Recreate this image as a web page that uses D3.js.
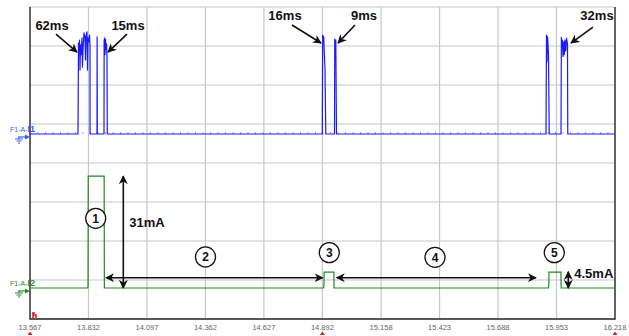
<!DOCTYPE html>
<html>
<head>
<meta charset="utf-8">
<script src="https://cdn.jsdelivr.net/npm/d3@7"></script>
<style>
  body { margin: 0; background: #fff; }
  svg { display: block; font-family: Arial, "Liberation Sans", sans-serif; }
</style>
</head>
<body>
<svg id="chart" width="629" height="336"></svg>
<script>
// time axis (s)
const tickLabels = ["13.567", "13.832", "14.097", "14.362", "14.627", "14.892", "15.158", "15.423", "15.688", "15.953", "16.218"]
const triggerTicks = ["13.567", "14.892", "16.218"]

// channel I1 (blue), [time s, current mA]
const traceI1 = [
  [13.567, 0], [13.7845, 0], [13.7868, 25.2], [13.7890, 23.3], [13.7913, 26.0], [13.7936, 17.7],
  [13.7959, 24.7], [13.7981, 21.9], [13.8026, 26.6], [13.8049, 18.5], [13.8072, 23.3], [13.8117, 28.0],
  [13.8162, 26.6], [13.8185, 20.5], [13.8208, 27.1], [13.8253, 28.3], [13.8275, 17.7], [13.8298, 26.6],
  [13.8344, 25.5], [13.8366, 27.4], [13.8389, 24.7], [13.8392, 0], [13.8706, 0], [13.8712, 26.9],
  [13.8720, 0], [13.9023, 0], [13.9030, 25.8], [13.9046, 26.6], [13.9069, 22.0], [13.9091, 26.3],
  [13.9114, 23.5], [13.9137, 25.0], [13.9159, 21.5], [13.9172, 0],
  [14.8916, 0], [14.8934, 27.4], [14.8957, 26.0], [14.8979, 27.0], [14.9006, 22.5], [14.9038, 18.0],
  [14.9074, 0], [14.9469, 0], [14.9480, 26.3], [14.9500, 25.5], [14.9527, 26.0], [14.9559, 0],
  [15.9053, 0], [15.9076, 27.4], [15.9098, 20.0], [15.9120, 27.0], [15.9135, 26.0], [15.9166, 22.0],
  [15.9198, 0], [15.9733, 0], [15.9750, 26.8], [15.9765, 24.0], [15.9792, 26.0], [15.9824, 21.5],
  [15.9855, 25.5], [15.9883, 22.0], [15.9914, 26.0], [15.9950, 23.0], [15.9982, 26.5], [16.0027, 25.0],
  [16.0040, 0], [16.218, 0]
]

// channel I2 (green), [time s, current mA]
const traceI2 = [
  [13.567, 0], [13.829, 0], [13.830, 0.6], [13.831, 31], [13.903, 31], [13.904, 0],
  [14.897, 0], [14.899, 0.5], [14.900, 4.4], [14.944, 4.4], [14.945, 0],
  [15.916, 0], [15.918, 0.7], [15.919, 4.4], [15.973, 4.4], [15.974, 0], [16.218, 0]
]

// burst duration callouts on I1: arrow tip [time, mA], tail offset and text offset in px
const burstNotes = [
  { text: "62ms", t: 13.780, v: 22.7, tail: [-21, -18], label: [-4, -4.5] },
  { text: "15ms", t: 13.9205, v: 22.7, tail: [19, -18], label: [1, -4.5] },
  { text: "16ms", t: 14.8857, v: 25.2, tail: [-29, -18], label: [-7, -5.5] },
  { text: "9ms", t: 14.9628, v: 25.2, tail: [17, -18], label: [9, -5.5] },
  { text: "32ms", t: 16.0186, v: 25.2, tail: [22, -16], label: [4, -7.5] }
]

// numbered phases on I2
const phaseNumbers = ["1", "2", "3", "4", "5"]
const phaseT = [13.8647, 14.3623, 14.9233, 15.4023, 15.9429]
const phaseV = [19.3, 8.6, 9.8, 8.5, 9.8]

// interval arrows (phase 2 and 4) at I2 level
const spanArrows = [
  { t0: 13.9114, t1: 14.8934, v: 2.85 },
  { t0: 14.9568, t1: 15.8600, v: 2.85 }
]
// amplitude arrows
const ampArrows = [
  { text: "31mA", t: 13.9898, v0: 0, v1: 31, labelV: 17 },
  { text: "4.5mA", t: 16.0063, v0: 0, v1: 4.5, labelV: 2.8 }
]

const svg = d3.select("#chart")
const margin = { top: 7, right: 14, bottom: 17, left: 30 }
const W = +svg.attr("width"), H = +svg.attr("height")
const x0 = margin.left, x1 = W - margin.right
const y0 = H - margin.bottom, y1 = margin.top

const x = d3.scaleLinear().domain([+tickLabels[0], +tickLabels[tickLabels.length - 1]]).range([x0, x1])
const div = d3.scaleLinear().domain([0, 8]).range([y0, y1])
// each channel has its own offset on the shared grid, 10.8 mA per division
const yI1 = d3.scaleLinear().domain([-51.25, 35.18]).range([y0, y1])
const yI2 = d3.scaleLinear().domain([-8.59, 77.84]).range([y0, y1])

// grid
const grid = svg.append("g").attr("stroke", "#c6c6c6").attr("stroke-width", 1.2)
grid.selectAll(".gx").data(tickLabels.slice(1, -1)).enter().append("line")
  .attr("x1", d => x(+d)).attr("x2", d => x(+d)).attr("y1", y1).attr("y2", y0)
grid.selectAll(".gy").data(d3.range(1, 9)).enter().append("line")
  .attr("x1", x0).attr("x2", x1).attr("y1", d => div(d)).attr("y2", d => div(d))

// frame
svg.append("path")
  .attr("d", `M${x0},${y1}V${y0}H${x1}V${y1}`)
  .attr("fill", "none").attr("stroke", "#222").attr("stroke-width", 1.4)

// tick labels
svg.append("g").selectAll("text").data(tickLabels).enter().append("text")
  .attr("x", d => x(+d)).attr("y", y0 + 11)
  .attr("text-anchor", "middle").attr("font-size", 7.5).attr("fill", "#666")
  .text(d => d)

svg.append("g").selectAll("path").data(triggerTicks).enter().append("path")
  .attr("d", d => `M${x(+d) - 2.5},${y0 + 16}L${x(+d)},${y0 + 12.5}L${x(+d) + 2.5},${y0 + 16}Z`)
  .attr("fill", "#e02020")

// trigger icon bottom-left
svg.append("path")
  .attr("d", `M${x0 + 3},${y0 - 1}V${y0 - 6}M${x0 + 3},${y0 - 4}H${x0 + 6}V${y0 - 1}M${x0 + 2},${y0 - 6}H${x0 + 5}`)
  .attr("fill", "none").attr("stroke", "#e02020").attr("stroke-width", 1.6)

// traces
const line = y => d3.line().x(d => x(d[0])).y(d => y(d[1]))

svg.append("path").datum(traceI2)
  .attr("d", line(yI2)).attr("fill", "none")
  .attr("stroke", "#1f8a1f").attr("stroke-width", 1.2)

// sample marks along I1 baseline
svg.append("line")
  .attr("x1", x0).attr("x2", x1).attr("y1", yI1(0) - 1).attr("y2", yI1(0) - 1)
  .attr("stroke", "#3030ff").attr("stroke-width", 1.2).attr("stroke-dasharray", "1 6.5")

svg.append("path").datum(traceI1)
  .attr("d", line(yI1)).attr("fill", "none")
  .attr("stroke", "#1a1aff").attr("stroke-width", 1.2).attr("stroke-linejoin", "round")

// channel labels
function channelLabel(y, color, name) {
  const g = svg.append("g").attr("fill", color)
  const t = g.append("text").attr("x", 10).attr("y", y - 2).attr("font-size", 7)
  t.append("tspan").text("F1-A-")
  t.append("tspan").attr("font-size", 9).attr("font-weight", "bold").text(name)
  g.append("path").attr("d", `M18,${y + 3}H26`).attr("stroke", color).attr("stroke-width", 1.2)
  g.append("path").attr("d", `M25,${y + 0.5}L${x0},${y + 3}L25,${y + 5.5}Z`)
  g.append("path")
    .attr("d", `M19,${y + 3}V${y + 5}M15,${y + 5}H23M16.5,${y + 7}H21.5M18,${y + 9}H20`)
    .attr("stroke", color).attr("stroke-width", 1).attr("fill", "none")
}
channelLabel(yI1(0), "#3b5cff", "I1")
channelLabel(yI2(0), "#2e8b2e", "I2")

// arrow markers
const defs = svg.append("defs")
defs.append("marker").attr("id", "head").attr("viewBox", "0 0 10 10")
  .attr("refX", 9).attr("refY", 5).attr("markerWidth", 9).attr("markerHeight", 9)
  .attr("markerUnits", "userSpaceOnUse").attr("orient", "auto-start-reverse")
  .append("path").attr("d", "M0,0L10,5L0,10L3,5Z").attr("fill", "#111")

// burst callouts
const notes = svg.append("g")
burstNotes.forEach(n => {
  const tx = x(n.t), ty = yI1(n.v)
  const sx = tx + n.tail[0], sy = ty + n.tail[1]
  notes.append("line").attr("x1", sx).attr("y1", sy).attr("x2", tx).attr("y2", ty)
    .attr("stroke", "#111").attr("stroke-width", 1.6).attr("marker-end", "url(#head)")
  notes.append("text").attr("x", sx + n.label[0]).attr("y", sy + n.label[1])
    .attr("text-anchor", "middle").attr("font-size", 13).attr("font-weight", "bold")
    .attr("fill", "#111").text(n.text)
})

// interval arrows
spanArrows.forEach(a => {
  notes.append("line").attr("x1", x(a.t0)).attr("x2", x(a.t1)).attr("y1", yI2(a.v)).attr("y2", yI2(a.v))
    .attr("stroke", "#111").attr("stroke-width", 1.6)
    .attr("marker-start", "url(#head)").attr("marker-end", "url(#head)")
})

// amplitude arrows
ampArrows.forEach(a => {
  notes.append("line").attr("x1", x(a.t)).attr("x2", x(a.t)).attr("y1", yI2(a.v0)).attr("y2", yI2(a.v1))
    .attr("stroke", "#111").attr("stroke-width", 1.6)
    .attr("marker-start", "url(#head)").attr("marker-end", "url(#head)")
  notes.append("text").attr("x", x(a.t) + 6).attr("y", yI2(a.labelV))
    .attr("font-size", 13).attr("font-weight", "bold").attr("fill", "#111").text(a.text)
})

// numbered circles
const phases = svg.append("g").selectAll("g").data(phaseNumbers).enter().append("g")
  .attr("transform", (d, i) => `translate(${x(phaseT[i])},${yI2(phaseV[i])})`)
phases.append("circle").attr("r", 10).attr("fill", "#fff").attr("stroke", "#111").attr("stroke-width", 1.3)
phases.append("text").attr("text-anchor", "middle").attr("dy", "0.36em")
  .attr("font-size", 12).attr("font-weight", "bold").attr("fill", "#111").text(d => d)
</script>
</body>
</html>
